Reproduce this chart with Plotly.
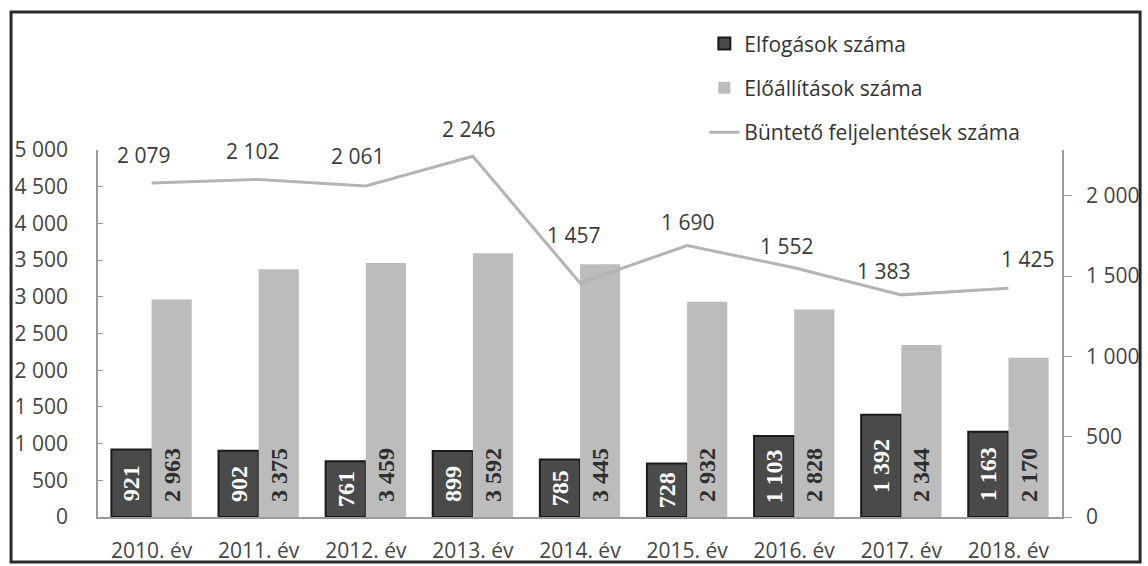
import plotly.graph_objects as go

categories = ["2010. év", "2011. év", "2012. év", "2013. év", "2014. év",
              "2015. év", "2016. év", "2017. év", "2018. év"]
elfogasok = [921, 902, 761, 899, 785, 728, 1103, 1392, 1163]
eloallitasok = [2963, 3375, 3459, 3592, 3445, 2932, 2828, 2344, 2170]
feljelentesek = [2079, 2102, 2061, 2246, 1457, 1690, 1552, 1383, 1425]
left_ticks = [0, 500, 1000, 1500, 2000, 2500, 3000, 3500, 4000, 4500, 5000]
right_ticks = [0, 500, 1000, 1500, 2000]

# label offsets (px) for the line's data labels
label_dx = [-8, -6, -8, -4, -7, 0, -8, -18, 19]
label_dy = [28, 28, 30, 27, 48, 24, 22, 24, 29]

SANS = "Open Sans"
SERIF = "Liberation Serif"

fig = go.Figure()
fig.add_trace(go.Bar(
    x=categories, y=elfogasok, name="Elfogások száma", legendgroup="a",
    marker=dict(color="#4a4a4a", line=dict(color="#1a1a1a", width=2)),
    texttemplate="<b>%{y:,d}</b>", textposition="inside", insidetextanchor="middle",
    textangle=-90, textfont=dict(family=SERIF, size=24, color="white"),
))
fig.add_trace(go.Bar(
    x=categories, y=eloallitasok, name="Előállítások száma", legendgroup="b",
    marker=dict(color="#bcbcbc", line=dict(width=0)),
    texttemplate="\u2002<b>%{y:,d}</b>", textposition="inside", insidetextanchor="start",
    textangle=-90, textfont=dict(family=SERIF, size=24, color="#2e2e2e"),
))
fig.add_trace(go.Scatter(
    x=categories, y=feljelentesek, name="Büntető feljelentések száma", legendgroup="c",
    mode="lines", line=dict(color="#b4b4b4", width=3), yaxis="y2",
))

for c, v, dx, dy in zip(categories, feljelentesek, label_dx, label_dy):
    fig.add_annotation(
        x=c, y=v, yref="y2", text=f"{v:,}".replace(",", " "), showarrow=False,
        xshift=dx, yshift=dy, font=dict(family=SANS, size=21, color="#3a3a3a"),
    )

# outer frame of the chart
fig.add_shape(type="rect", xref="paper", yref="paper",
              x0=-0.0902, x1=1.081, y0=-0.1226, y1=1.376,
              line=dict(color="#2a2a2a", width=3))

fig.update_layout(
    width=1148, height=566,
    margin=dict(l=98, r=86, t=150, b=49, autoexpand=False),
    paper_bgcolor="white", plot_bgcolor="white",
    separators=", ",
    barmode="group", bargap=0.25, bargroupgap=0,
    font=dict(family=SANS, size=21, color="#444"),
    showlegend=True,
    legend=dict(x=0.629, y=1.345, xanchor="left", yanchor="top",
                traceorder="grouped", tracegroupgap=14,
                font=dict(family=SANS, size=21, color="#333"),
                bgcolor="rgba(0,0,0,0)"),
    xaxis=dict(showline=True, linecolor="#9a9a9a", linewidth=1.5, ticks="",
               showgrid=False, ticklabelstandoff=14,
               tickfont=dict(family=SANS, size=21, color="#444")),
    yaxis=dict(range=[0, 5000], tickvals=left_ticks, tickformat=",d",
               showline=True, linecolor="#9a9a9a", linewidth=1.5,
               ticks="inside", ticklen=5, tickcolor="#9a9a9a",
               showgrid=False, zeroline=False, ticklabelstandoff=24,
               tickfont=dict(family=SANS, size=21, color="#444")),
    yaxis2=dict(range=[0, 2285], tickvals=right_ticks, tickformat=",d",
                overlaying="y", side="right",
                showline=True, linecolor="#9a9a9a", linewidth=1.5,
                ticks="outside", ticklen=8, tickcolor="#9a9a9a",
                showgrid=False, zeroline=False, ticklabelstandoff=10,
                tickfont=dict(family=SANS, size=21, color="#444")),
)

fig.write_html("out.html", config={"displayModeBar": False},
               post_script="document.body.style.margin='0px';document.body.style.overflow='hidden';")
